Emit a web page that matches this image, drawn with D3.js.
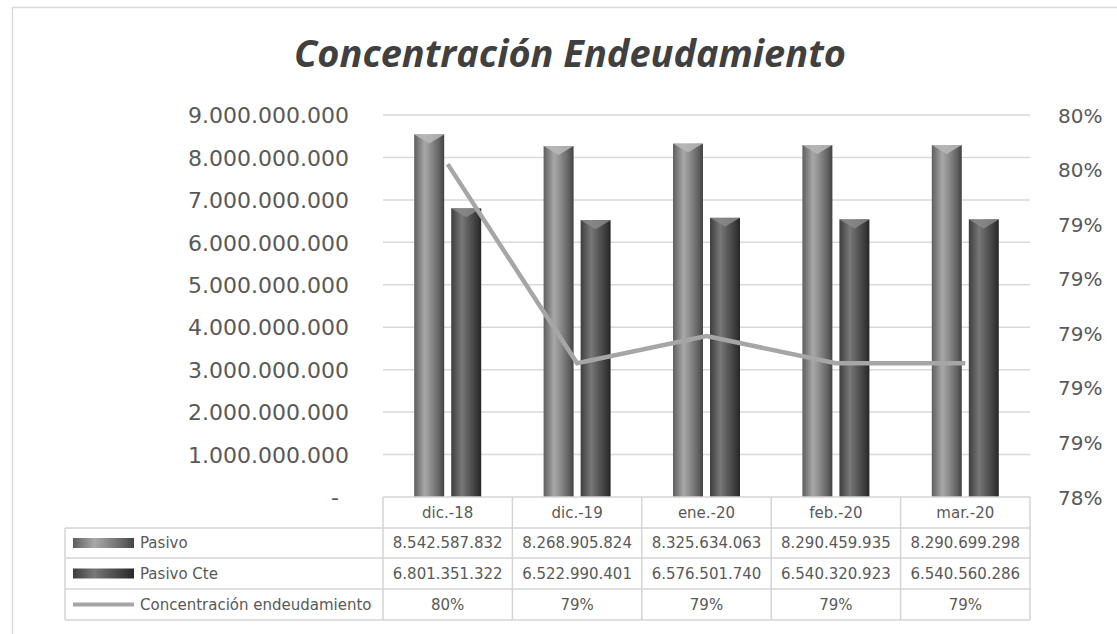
<!DOCTYPE html>
<html>
<head>
<meta charset="utf-8">
<script src="https://cdn.jsdelivr.net/npm/d3@7"></script>
<style>
  html,body{margin:0;padding:0;background:#fff;}
  svg{display:block;}
</style>
</head>
<body>
<svg id="chart" width="1117" height="634"></svg>
<script>
// ---- data ----
const categories = ["dic.-18", "dic.-19", "ene.-20", "feb.-20", "mar.-20"];
const seriesNames = ["Pasivo", "Pasivo Cte", "Concentración endeudamiento"];
const pasivo = [8542587832, 8268905824, 8325634063, 8290459935, 8290699298];
const pasivoCte = [6801351322, 6522990401, 6576501740, 6540320923, 6540560286];
const concentracion = [0.7962, 0.7889, 0.7899, 0.7889, 0.7889];
const concentracionLabels = ["80%", "79%", "79%", "79%", "79%"];
const leftTicks = [0, 1e9, 2e9, 3e9, 4e9, 5e9, 6e9, 7e9, 8e9, 9e9];
const rightTicks = [0.784, 0.786, 0.788, 0.790, 0.792, 0.794, 0.796, 0.798];
const titleText = "Concentración Endeudamiento";

// ---- layout ----
const svg = d3.select("#chart");
const plotL = 383, plotR = 1030, plotT = 115, plotB = 497;
const tableL = 65;
const rowEdges = [497, 528, 558, 589, 620];

const loc = d3.formatLocale({decimal: ",", thousands: ".", grouping: [3], currency: ["", ""]});
const fmtNum = loc.format(",d");
const fmtPct = d3.format(".0%");

const x = d3.scaleBand().domain(categories).range([plotL, plotR]).padding(0);
const yL = d3.scaleLinear().domain([0, 9e9]).range([plotB, plotT]);
const yR = d3.scaleLinear().domain([0.784, 0.798]).range([plotB, plotT]);
const xs = d3.scaleBand().domain(seriesNames.slice(0, 2)).range([-33.5, 33.5]).paddingInner(0.19);

// outer frame
svg.append("rect").attr("x", 12.5).attr("y", 7.5).attr("width", 1120).attr("height", 640)
  .attr("fill", "#fff").attr("stroke", "#d9d9d9").attr("stroke-width", 1.5);

// gradients
const defs = svg.append("defs");
function grad(id, stops) {
  const g = defs.append("linearGradient").attr("id", id).attr("x1", "0").attr("x2", "1").attr("y1", "0").attr("y2", "0");
  stops.forEach(s => g.append("stop").attr("offset", s[0]).attr("stop-color", s[1]));
}
grad("gP", [[0, "#5e5e5e"], [0.35, "#a8a8a8"], [0.55, "#8e8e8e"], [0.85, "#606060"], [1, "#424242"]]);
grad("gC", [[0, "#3e3e3e"], [0.35, "#787878"], [0.55, "#5e5e5e"], [0.85, "#3a3a3a"], [1, "#262626"]]);

// title
const title = svg.append("text").attr("x", 570).attr("y", 67).attr("text-anchor", "middle")
  .attr("font-family", "'Open Sans', 'Noto Sans', sans-serif").attr("font-weight", "bold")
  .attr("font-style", "italic").attr("font-size", 36).attr("fill", "#404040").text(titleText);
const tw = title.node().getComputedTextLength();
title.attr("font-size", 36 * 552 / tw);

// gridlines
svg.append("g").selectAll("line").data(leftTicks.filter(d => d > 0)).join("line")
  .attr("x1", plotL).attr("x2", plotR).attr("y1", d => yL(d)).attr("y2", d => yL(d))
  .attr("stroke", "#d9d9d9").attr("stroke-width", 1.5);

// left axis labels
const leftAxis = d3.axisLeft(yL).tickValues(leftTicks).tickSize(0).tickPadding(0)
  .tickFormat(d => d === 0 ? "-" : fmtNum(d));
const gL = svg.append("g").attr("transform", "translate(349,0)").call(leftAxis);
gL.select(".domain").remove();
gL.selectAll("text").attr("font-family", "'DejaVu Sans', sans-serif").attr("font-size", 22)
  .attr("fill", "#595959").attr("dy", "0.35em");
gL.selectAll(".tick").filter(d => d === 0).select("text").attr("x", -10);

// right axis labels
const rightAxis = d3.axisRight(yR).tickValues(rightTicks).tickSize(0).tickPadding(0).tickFormat(fmtPct);
const gR = svg.append("g").attr("transform", "translate(1058,0)").call(rightAxis);
gR.select(".domain").remove();
gR.selectAll("text").attr("font-family", "'DejaVu Sans', sans-serif").attr("font-size", 20)
  .attr("fill", "#595959").attr("dy", "0.35em");

// bars
function drawBars(vals, name, fill, tipFill) {
  const g = svg.append("g");
  const bw = xs.bandwidth();
  vals.forEach((v, i) => {
    const bx = x(categories[i]) + x.bandwidth() / 2 + xs(name);
    const top = yL(v);
    g.append("rect").attr("x", bx).attr("y", top).attr("width", bw).attr("height", plotB - top)
      .attr("fill", fill);
    g.append("path")
      .attr("d", `M${bx},${top} L${bx + bw},${top} L${bx + bw / 2},${top + 9} Z`)
      .attr("fill", tipFill).attr("opacity", 0.85);
  });
}
drawBars(pasivo, "Pasivo", "url(#gP)", "#b8b8b8");
drawBars(pasivoCte, "Pasivo Cte", "url(#gC)", "#8a8a8a");

// line
const line = d3.line().x((d, i) => x(categories[i]) + x.bandwidth() / 2).y(d => yR(d));
svg.append("path").datum(concentracion).attr("d", line).attr("fill", "none")
  .attr("stroke", "#a6a6a6").attr("stroke-width", 4.5).attr("stroke-linejoin", "miter");

// table
const tg = svg.append("g");
const tStroke = "#d4d4d4";
const tableFont = "'DejaVu Sans', sans-serif";
tg.append("rect").attr("x", plotL).attr("y", rowEdges[0]).attr("width", plotR - plotL).attr("height", rowEdges[4] - rowEdges[0]).attr("fill", "#fff");
tg.append("rect").attr("x", tableL).attr("y", rowEdges[1]).attr("width", plotL - tableL).attr("height", rowEdges[4] - rowEdges[1]).attr("fill", "#fff");
rowEdges.forEach((ry, k) => {
  tg.append("line").attr("x1", k === 0 ? plotL : tableL).attr("x2", plotR).attr("y1", ry).attr("y2", ry)
    .attr("stroke", tStroke).attr("stroke-width", 1.5);
});
const colEdges = categories.map(c => x(c)).concat([plotR]);
colEdges.forEach(cx => {
  tg.append("line").attr("x1", cx).attr("x2", cx).attr("y1", rowEdges[0]).attr("y2", rowEdges[4])
    .attr("stroke", tStroke).attr("stroke-width", 1.5);
});
tg.append("line").attr("x1", tableL).attr("x2", tableL).attr("y1", rowEdges[1]).attr("y2", rowEdges[4])
  .attr("stroke", tStroke).attr("stroke-width", 1.5);

const rowData = [
  categories,
  pasivo.map(fmtNum),
  pasivoCte.map(fmtNum),
  concentracionLabels
];
rowData.forEach((row, r) => {
  const cy = (rowEdges[r] + rowEdges[r + 1]) / 2;
  row.forEach((t, i) => {
    tg.append("text").attr("x", x(categories[i]) + x.bandwidth() / 2).attr("y", cy).attr("dy", "0.36em")
      .attr("text-anchor", "middle").attr("font-family", tableFont).attr("font-size", 15)
      .attr("fill", "#595959").text(t);
  });
});
seriesNames.forEach((name, k) => {
  const cy = (rowEdges[k + 1] + rowEdges[k + 2]) / 2;
  if (k < 2) {
    tg.append("rect").attr("x", 73).attr("y", cy - 5).attr("width", 61).attr("height", 10)
      .attr("fill", k === 0 ? "url(#gP)" : "url(#gC)");
  } else {
    tg.append("line").attr("x1", 73).attr("x2", 134).attr("y1", cy).attr("y2", cy)
      .attr("stroke", "#a6a6a6").attr("stroke-width", 4);
  }
  tg.append("text").attr("x", 140).attr("y", cy).attr("dy", "0.36em")
    .attr("font-family", tableFont).attr("font-size", 15).attr("fill", "#595959").text(name);
});
</script>
</body>
</html>
